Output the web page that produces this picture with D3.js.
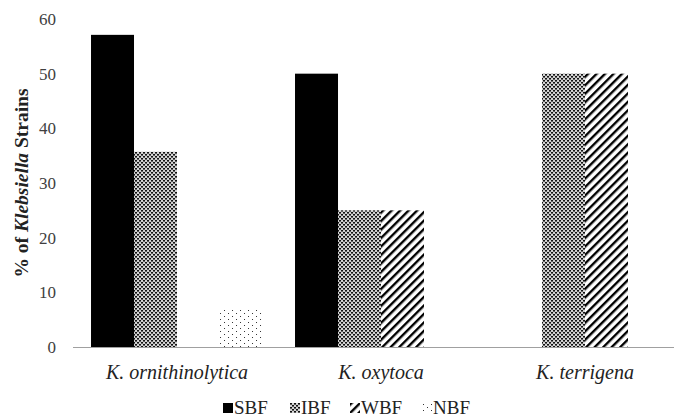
<!DOCTYPE html>
<html>
<head>
<meta charset="utf-8">
<script src="https://cdn.jsdelivr.net/npm/d3@7"></script>
<style>
  html, body { margin: 0; padding: 0; background: #fff; }
  svg { display: block; }
</style>
</head>
<body>
<svg id="chart" width="674" height="419"></svg>
<script>
// Species of Klebsiella
const categories = ["K. ornithinolytica", "K. oxytoca", "K. terrigena"];
// Biofilm classes
const seriesNames = ["SBF", "IBF", "WBF", "NBF"];
// Percent of strains per class, one array per series
const SBF = [57.1, 50, 0];
const IBF = [35.7, 25, 50];
const WBF = [0, 25, 50];
const NBF = [7.1, 0, 0];
const yTicks = [0, 10, 20, 30, 40, 50, 60];

const seriesValues = { SBF, IBF, WBF, NBF };
const SERIF = '"Liberation Serif"';

const svg = d3.select("#chart");
const W = 674, H = 419;
const margin = { left: 75, right: -13, top: 19, bottom: 72 };

const x0 = d3.scaleBand()
  .domain(categories)
  .range([margin.left, W - margin.right])
  .paddingInner(0.157)
  .paddingOuter(0.0785);

const x1 = d3.scaleBand()
  .domain(seriesNames)
  .range([0, x0.bandwidth()]);

const y = d3.scaleLinear()
  .domain([0, 60])
  .range([H - margin.bottom, margin.top]);

// Fill patterns
const defs = svg.append("defs");

const pIBF = defs.append("pattern")
  .attr("id", "pat-IBF").attr("patternUnits", "userSpaceOnUse")
  .attr("width", 4).attr("height", 4);
pIBF.append("rect").attr("width", 4).attr("height", 4).attr("fill", "#d4d4d4");
pIBF.append("rect").attr("x", 0).attr("y", 0).attr("width", 2).attr("height", 1.6).attr("fill", "#111");
pIBF.append("rect").attr("x", 2).attr("y", 2).attr("width", 2).attr("height", 1.6).attr("fill", "#111");

const pWBF = defs.append("pattern")
  .attr("id", "pat-WBF").attr("patternUnits", "userSpaceOnUse")
  .attr("width", 6).attr("height", 6)
  .attr("patternTransform", "rotate(45)");
pWBF.append("rect").attr("width", 6).attr("height", 6).attr("fill", "#fff");
pWBF.append("rect").attr("x", 0).attr("y", 0).attr("width", 2.4).attr("height", 6).attr("fill", "#000");

const pNBF = defs.append("pattern")
  .attr("id", "pat-NBF").attr("patternUnits", "userSpaceOnUse")
  .attr("width", 8).attr("height", 6);
pNBF.append("rect").attr("width", 8).attr("height", 6).attr("fill", "#fff");
pNBF.append("rect").attr("x", 1).attr("y", 1).attr("width", 1).attr("height", 1).attr("fill", "#333");
pNBF.append("rect").attr("x", 5).attr("y", 4).attr("width", 1).attr("height", 1).attr("fill", "#333");

const fills = { SBF: "#000", IBF: "url(#pat-IBF)", WBF: "url(#pat-WBF)", NBF: "url(#pat-NBF)" };

// Y tick labels (no axis line, no tick marks)
const yAxis = d3.axisLeft(y).tickValues(yTicks).tickSize(0).tickPadding(19);
const gy = svg.append("g").attr("transform", `translate(${margin.left},0)`).call(yAxis);
gy.select(".domain").remove();
gy.attr("font-family", null).attr("font-size", null);
gy.selectAll("text")
  .style("font-family", SERIF)
  .style("font-size", "17px")
  .attr("fill", "#404040");

// Bars
const groups = svg.append("g").selectAll("g")
  .data(categories)
  .join("g")
  .attr("transform", d => `translate(${x0(d)},0)`);

groups.selectAll("rect")
  .data((c, i) => seriesNames.map(s => ({ s, v: seriesValues[s][i] })))
  .join("rect")
  .attr("x", d => x1(d.s))
  .attr("width", x1.bandwidth())
  .attr("y", d => y(d.v))
  .attr("height", d => y(0) - y(d.v))
  .attr("fill", d => fills[d.s]);

// Category labels and baseline
const xAxis = d3.axisBottom(x0).tickSize(0).tickPadding(18);
const gx = svg.append("g").attr("transform", `translate(0,${y(0)})`).call(xAxis);
gx.select(".domain").remove();
gx.attr("font-family", null).attr("font-size", null);
svg.append("line")
  .attr("x1", 73).attr("x2", W)
  .attr("y1", y(0) + 0.5).attr("y2", y(0) + 0.5)
  .attr("stroke", "#a0a0a0").attr("stroke-width", 1);
gx.selectAll("text")
  .style("font-family", SERIF)
  .style("font-style", "italic")
  .style("font-size", "20px")
  .attr("fill", "#222");

// Y axis title
const yt = svg.append("text")
  .attr("transform", "translate(28,183) rotate(-90)")
  .attr("text-anchor", "middle")
  .style("font-family", SERIF)
  .style("font-weight", "bold")
  .style("font-size", "19.5px")
  .attr("fill", "#222");
yt.append("tspan").text("% of ");
yt.append("tspan").style("font-style", "italic").text("Klebsiella");
yt.append("tspan").text(" Strains");

// Legend
const legendX = [223, 290, 350, 422];
const legend = svg.append("g").attr("transform", "translate(0,403)");
seriesNames.forEach((s, i) => {
  const g = legend.append("g").attr("transform", `translate(${legendX[i]},0)`);
  g.append("rect").attr("x", 0).attr("y", 0).attr("width", 10).attr("height", 10).attr("fill", fills[s]);
  g.append("text").attr("x", 11).attr("y", 11)
    .style("font-family", SERIF)
    .style("font-size", "19px").attr("fill", "#222").text(s);
});
</script>
</body>
</html>
